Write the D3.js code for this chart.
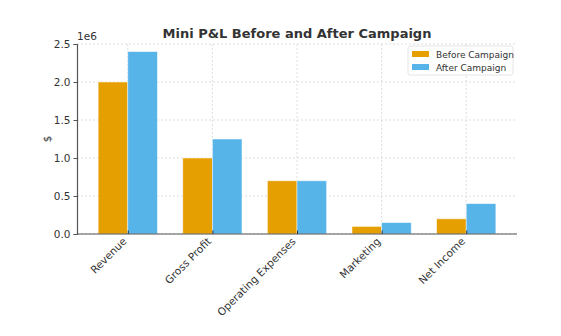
<!DOCTYPE html>
<html>
<head>
<meta charset="utf-8">
<script src="https://cdn.jsdelivr.net/npm/d3@7"></script>
<style>
  body { margin: 0; background: #fff; }
  text { font-family: "DejaVu Sans", sans-serif; fill: #333; }
</style>
</head>
<body>
<div id="chart"></div>
<script>
// chart values
var categories = ["Revenue", "Gross Profit", "Operating Expenses", "Marketing", "Net Income"];
var seriesNames = ["Before Campaign", "After Campaign"];
var beforeValues = [2000000, 1000000, 700000, 100000, 200000];
var afterValues = [2400000, 1250000, 700000, 150000, 400000];
var yTicks = [0, 500000, 1000000, 1500000, 2000000, 2500000];
var colors = ["#E69F00", "#56B4E9"];

// plot box (window.top is reserved, so use other names)
var w = 561, h = 336,
    pLeft = 77, pRight = 517, pTop = 44, pBottom = 234;

var svg = d3.select("#chart").append("svg")
    .attr("width", w)
    .attr("height", h);

// x runs on category index, with matplotlib-like padding at the ends
var x = d3.scaleLinear().domain([-0.6, categories.length - 0.4]).range([pLeft, pRight]);
var y = d3.scaleLinear().domain([0, 2500000]).range([pBottom, pTop]);
var barW = x(0.35) - x(0);

// grid
var grid = svg.append("g");
grid.selectAll(".gy").data(yTicks).enter().append("line")
    .attr("x1", pLeft).attr("x2", pRight)
    .attr("y1", function(d) { return y(d); }).attr("y2", function(d) { return y(d); })
    .attr("stroke", "#d4d4d4").attr("stroke-width", 0.8).attr("stroke-dasharray", "2,2");
grid.selectAll(".gx").data(categories).enter().append("line")
    .attr("x1", function(d, i) { return x(i); }).attr("x2", function(d, i) { return x(i); })
    .attr("y1", pTop).attr("y2", pBottom)
    .attr("stroke", "#d4d4d4").attr("stroke-width", 0.8).attr("stroke-dasharray", "2,2");

// bars
var series = [beforeValues, afterValues];
series.forEach(function(vals, s) {
    svg.append("g").selectAll("rect")
        .data(vals)
        .enter().append("rect")
        .attr("x", function(d, i) { return x(i) + (s === 0 ? -barW : 0); })
        .attr("y", function(d) { return y(d); })
        .attr("width", barW)
        .attr("height", function(d) { return pBottom - y(d); })
        .attr("fill", colors[s])
        .attr("stroke", "#fff")
        .attr("stroke-opacity", 0.6)
        .attr("stroke-width", 0.8);
});

// y axis
var yAxis = svg.append("g")
    .attr("transform", "translate(" + pLeft + ",0)")
    .call(d3.axisLeft(y).tickValues(yTicks).tickSize(3.5).tickPadding(3)
        .tickFormat(function(d) { return (d / 1e6).toFixed(1); }));
yAxis.select(".domain").attr("stroke", "#555").attr("stroke-width", 1.2);
yAxis.selectAll(".tick line").attr("stroke", "#555");
yAxis.selectAll(".tick text").style("font-size", "10.5px").attr("fill", "#333");

// x axis, ticks point inward
var xAxis = svg.append("g")
    .attr("transform", "translate(0," + pBottom + ")")
    .call(d3.axisBottom(x).tickValues(d3.range(categories.length)).tickSize(-3.5).tickSizeOuter(0)
        .tickFormat(function(d) { return categories[d]; }));
xAxis.select(".domain").attr("stroke", "#555").attr("stroke-width", 1.2)
    .attr("d", "M" + pLeft + ",0H" + pRight);
xAxis.selectAll(".tick line").attr("stroke", "#333");
xAxis.selectAll(".tick text")
    .style("font-size", "10.5px")
    .attr("fill", "#333")
    .attr("text-anchor", "end")
    .attr("dy", null)
    .attr("y", 0)
    .attr("transform", "translate(-1,8) rotate(-45)");

// axis multiplier and label
svg.append("text").attr("x", pLeft).attr("y", 40)
    .style("font-size", "10.5px").text("1e6");
svg.append("text")
    .attr("transform", "translate(51," + ((pTop + pBottom) / 2) + ") rotate(-90)")
    .attr("text-anchor", "middle")
    .style("font-size", "10.5px").text("$");

// title
svg.append("text")
    .attr("x", (pLeft + pRight) / 2).attr("y", 38)
    .attr("text-anchor", "middle")
    .style("font-size", "13px").style("font-weight", "bold")
    .text("Mini P&L Before and After Campaign");

// legend
var legend = svg.append("g").attr("transform", "translate(408,46)");
legend.append("rect")
    .attr("width", 105).attr("height", 29).attr("rx", 2)
    .attr("fill", "#fff").attr("fill-opacity", 0.8)
    .attr("stroke", "#ddd").attr("stroke-width", 0.8);
seriesNames.forEach(function(name, i) {
    legend.append("rect")
        .attr("x", 4).attr("y", 5 + i * 13)
        .attr("width", 17).attr("height", 6)
        .attr("fill", colors[i]);
    legend.append("text")
        .attr("x", 28).attr("y", 11.5 + i * 13)
        .style("font-size", "9px")
        .text(name);
});
</script>
</body>
</html>
